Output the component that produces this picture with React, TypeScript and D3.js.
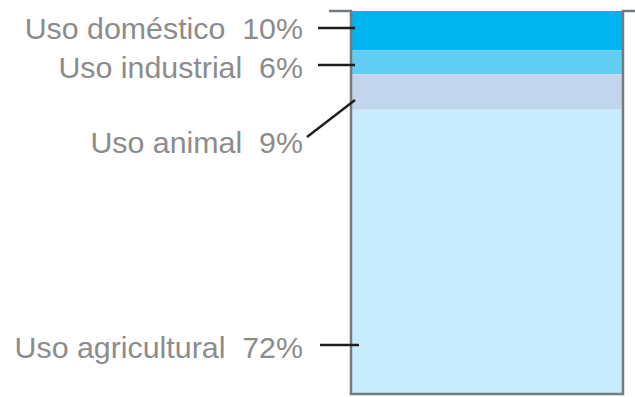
import React from "react";
import * as d3 from "d3";

const categories = ["Uso doméstico", "Uso industrial", "Uso animal", "Uso agricultural"];
const values = [10, 6, 9, 72];
const colors = ["#00b5ef", "#62cdf3", "#c3d5ed", "#c7ecfd"];

const W = 635;
const H = 397;

export default function App() {
  const total = d3.sum(values);
  const y = d3.scaleLinear().domain([0, total]).range([11, 394]);
  const x = d3.scaleLinear().domain([0, 1]).range([351, 623]);
  let acc = 0;
  const segs = values.map((v, i) => {
    const s = { name: categories[i], v, y0: acc, y1: acc + v, color: colors[i] };
    acc += v;
    return s;
  });
  // label layout: baseline y, and leader line points
  const labelY = [39, 78, 153, 358];
  const leaders = [
    { x1: 318, y1: 28, x2: 355, y2: 28 },
    { x1: 318, y1: 65, x2: 355, y2: 65 },
    { x1: 307, y1: 137, x2: 355, y2: 100 },
    { x1: 320, y1: 345, x2: 359, y2: 345 },
  ];
  return (
    <svg
      width={W}
      height={H}
      style={{ position: "absolute", left: 0, top: 0, background: "#fff" }}
    >
      {segs.map((s, i) => (
        <rect
          key={i}
          x={x(0)}
          y={y(s.y0)}
          width={x(1) - x(0)}
          height={y(s.y1) - y(s.y0)}
          fill={s.color}
        />
      ))}
      {/* container outline */}
      <path
        d={`M329,${y(0)} H${x(0)} V${y(total)} H${x(1)} V${y(0)} H635`}
        fill="none"
        stroke="#737b80"
        strokeWidth={2.5}
      />
      {segs.map((s, i) => (
        <text
          key={"t" + i}
          transform={`translate(303,${labelY[i]}) scale(1.047,1)`}
          textAnchor="end"
          fontFamily="Liberation Sans, Arial, sans-serif"
          fontSize={29}
          fill="#8c8c8c"
        >
          {s.name}
          {"\u00a0 "}
          {s.v}%
        </text>
      ))}
      {leaders.map((l, i) => (
        <line key={"l" + i} {...l} stroke="#1e1e1e" strokeWidth={2.4} />
      ))}
    </svg>
  );
}
